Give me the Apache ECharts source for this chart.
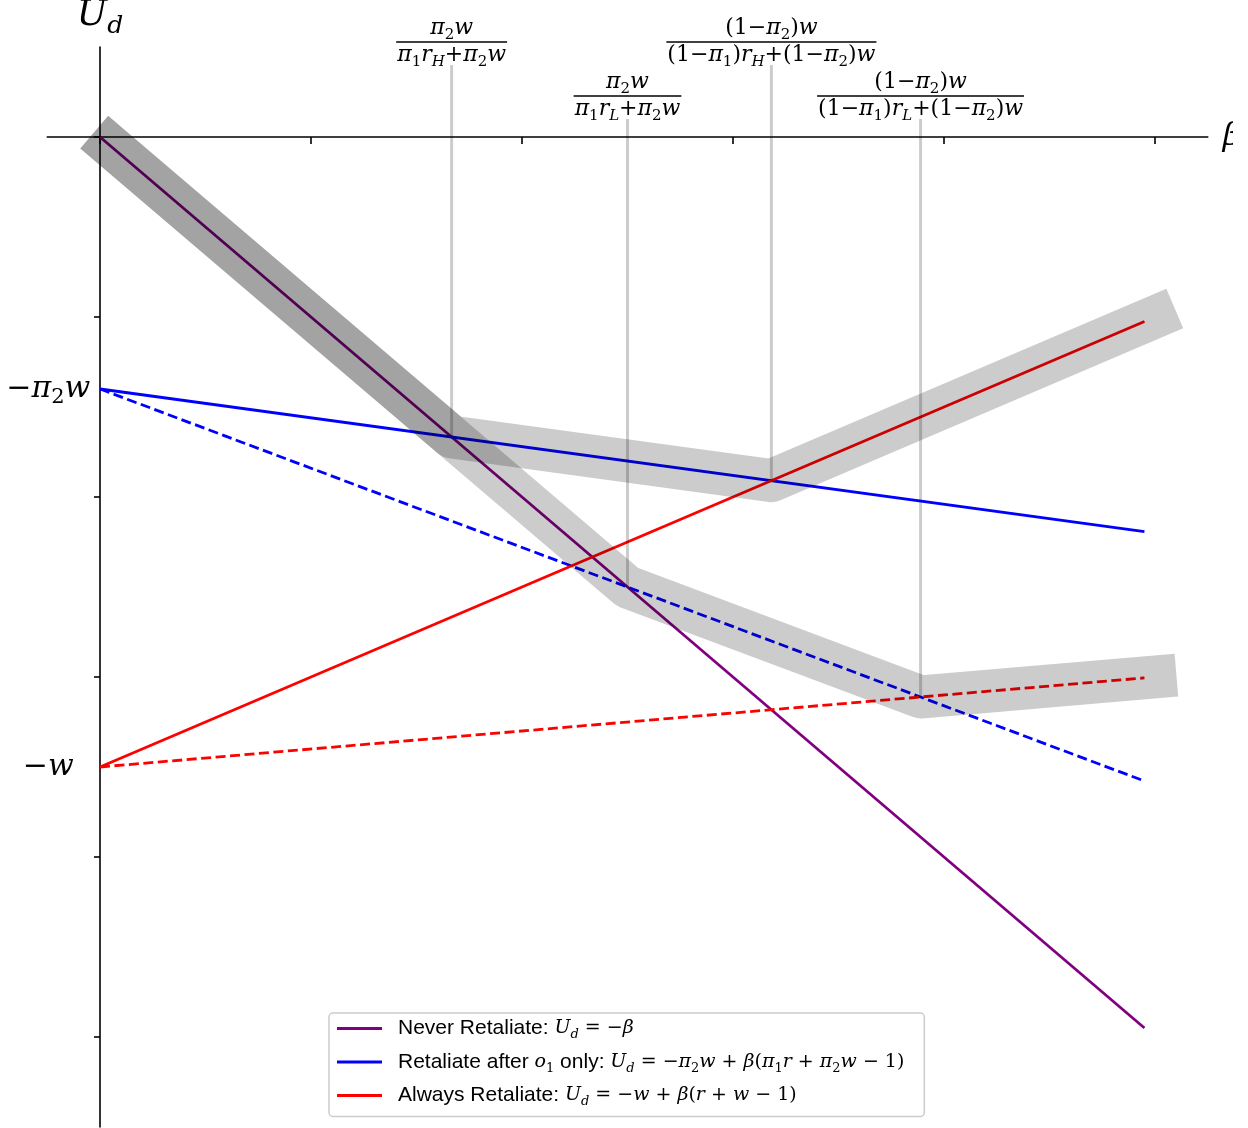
<!DOCTYPE html>
<html>
<head>
<meta charset="utf-8">
<script src="https://cdn.jsdelivr.net/npm/echarts@6/dist/echarts.min.js"></script>
<style>
  html, body { margin: 0; padding: 0; background: #fff; }
  #chart { width: 1248px; height: 1128px; }
</style>
</head>
<body>
<div id="chart"></div>
<script>
// ---- values ---------------------------------------------------------------
// Each strategy line is given by its value at beta = 0 and at the last beta.
const betaLine = [0, 0.99];
const neverRetaliate = [0, -0.99];
const retaliateO1High = [-0.28, -0.4384];   // r = r_H
const retaliateO1Low = [-0.28, -0.7156];    // r = r_L
const alwaysRetaliateHigh = [-0.7, -0.205]; // r = r_H
const alwaysRetaliateLow = [-0.7, -0.601];  // r = r_L

// Best-response envelopes (upper hull for r_H and for r_L)
const envelopeHighBeta = [0.01, 0.3333, 0.6364, 1.0];
const envelopeHighU = [-0.01, -0.3333, -0.3818, -0.2];
const envelopeLowBeta = [0.01, 0.5, 0.7778, 1.0];
const envelopeLowU = [-0.01, -0.5, -0.6222, -0.6];

// Switching points and their formula labels
const thresholdBeta = [0.3333, 0.5, 0.6364, 0.7778];
const thresholdU = [-0.3333, -0.5, -0.3818, -0.6222];
const thresholdLabelU = [0.08, 0.02, 0.08, 0.02];
const thresholdNum = ['π_2w', 'π_2w', '(1−π_2)w', '(1−π_2)w'];
const thresholdDen = ['π_1r_H+π_2w', 'π_1r_L+π_2w', '(1−π_1)r_H+(1−π_2)w', '(1−π_1)r_L+(1−π_2)w'];

// Axes
const xMin = -0.05, xMax = 1.05, yMin = -1.1, yMax = 0.1;
const xTicks = [0, 0.2, 0.4, 0.6, 0.8, 1.0];
const yTicks = [-1.0, -0.8, -0.6, -0.4, -0.2, 0];
const yLabelValues = [-0.28, -0.7];
const yLabelTexts = ['−π_2w', '−w'];

// Legend
const seriesNames = ['Never Retaliate', 'Retaliate after o1 only', 'Always Retaliate'];
const legendLead = ['Never Retaliate: ', 'Retaliate after ', 'Always Retaliate: '];
const legendMid = ['', ' only: ', ''];
const legendMathA = ['', 'o_1', ''];
const legendMathB = ['U_d = −β', 'U_d = −π_2w + β(π_1r + π_2w − 1)', 'U_d = −w + β(r + w − 1)'];

// ---- math text helpers ----------------------------------------------------
const MATH_FONT = 'DejaVu Serif';
const TEXT_FONT = 'Liberation Sans';

// Split a small math string into italic letters, upright symbols and subscripts
function parseMath(src) {
  const out = [];
  for (let k = 0; k < src.length; k++) {
    let ch = src[k], cls;
    if (ch === '_') { ch = src[++k]; cls = /[0-9]/.test(ch) ? 'sn' : 'si'; }
    else cls = /[A-Za-zα-ω]/.test(ch) ? 'mi' : 'mn';
    if (out.length && out[out.length - 1][0] === cls) out[out.length - 1][1] += ch;
    else out.push([cls, ch]);
  }
  return out;
}
function mathRich(src, prefix) {
  return parseMath(src).map(([c, t]) => '{' + prefix + c + '|' + t + '}').join('');
}
function mathStyles(prefix, size) {
  const L = Math.round(size * 1.3), sub = Math.round(size * 0.7);
  const base = { fontFamily: MATH_FONT, color: '#000', fill: '#000' };
  return {
    [prefix + 'mi']: Object.assign({}, base, { fontStyle: 'italic', fontSize: size, lineHeight: L }),
    [prefix + 'mn']: Object.assign({}, base, { fontStyle: 'normal', fontSize: size, lineHeight: L }),
    [prefix + 'si']: Object.assign({}, base, { fontStyle: 'italic', fontSize: sub, lineHeight: sub, verticalAlign: 'bottom' }),
    [prefix + 'sn']: Object.assign({}, base, { fontStyle: 'normal', fontSize: sub, lineHeight: sub, verticalAlign: 'bottom' })
  };
}

const fracRich = mathStyles('f', 22);
const tickRich = mathStyles('t', 30);
const nameRich = mathStyles('a', 36);
const legendRich = Object.assign(mathStyles('l', 19), {
  txt: { fontFamily: TEXT_FONT, fontSize: 21, lineHeight: 26, color: '#000' }
});

function textWidth(text, rich) {
  const t = new echarts.graphic.Text({ style: { text: text, rich: rich } });
  return t.getBoundingRect().width;
}

function legendLabel(name) {
  const i = seriesNames.indexOf(name);
  let s = '{txt|' + legendLead[i] + '}';
  if (legendMathA[i]) s += mathRich(legendMathA[i], 'l');
  if (legendMid[i]) s += '{txt|' + legendMid[i] + '}';
  return s + mathRich(legendMathB[i], 'l');
}

function segment(b, u) { return [[b[0], u[0]], [b[1], u[1]]]; }
function polyline(bs, us) { return bs.map((b, i) => [b, us[i]]); }

// ---- chart ----------------------------------------------------------------
const chart = echarts.init(document.getElementById('chart'), null, { renderer: 'canvas' });

function lineSeries(name, data, color, dashed) {
  return {
    name: name, type: 'line', data: data, z: 2,
    showSymbol: false, symbol: 'none', silent: true, animation: false,
    color: color, itemStyle: { color: color },
    lineStyle: { color: color, width: 2.8, type: dashed ? [10, 4.5] : 'solid', cap: 'butt' }
  };
}
function bandSeries(name, data) {
  return {
    name: name, type: 'line', data: data, z: 3,
    showSymbol: false, symbol: 'none', silent: true, animation: false,
    lineStyle: { color: 'rgba(0,0,0,0.2)', width: 43, cap: 'square', join: 'round' }
  };
}

const option = {
  animation: false,
  backgroundColor: '#fff',
  grid: { left: 47.25, right: 40.25, top: 47, bottom: 1, containLabel: false, outerBoundsMode: 'none' },
  xAxis: {
    type: 'value', min: xMin, max: xMax,
    axisLine: { onZero: true, lineStyle: { color: '#000', width: 1.6 } },
    axisTick: { show: true, customValues: xTicks, length: 7, lineStyle: { color: '#000', width: 1.6 } },
    axisLabel: { show: false },
    splitLine: { show: false },
    name: 'β', nameLocation: 'end', nameGap: 15,
    nameTextStyle: { fontFamily: MATH_FONT, fontStyle: 'italic', fontSize: 32, color: '#000' }
  },
  yAxis: {
    type: 'value', min: yMin, max: yMax,
    axisLine: { onZero: true, lineStyle: { color: '#000', width: 1.6 } },
    axisTick: { show: true, customValues: yTicks, length: 6, lineStyle: { color: '#000', width: 1.6 } },
    axisLabel: { show: false },
    splitLine: { show: false },
    name: mathRich('U_d', 'a'), nameLocation: 'end', nameGap: 8,
    nameTextStyle: { rich: nameRich }
  },
  legend: {
    data: seriesNames,
    orient: 'vertical', left: 329, top: 1013,
    icon: 'rect', itemWidth: 45, itemHeight: 3, itemGap: 10,
    padding: [5, 20, 8, 8],
    borderColor: '#cccccc', borderWidth: 1.5, borderRadius: 4,
    backgroundColor: 'rgba(255,255,255,0.8)',
    selectedMode: false,
    formatter: legendLabel,
    textStyle: { rich: legendRich, padding: [0, 0, 0, 11] }
  },
  graphic: [
    // the figure is trimmed just past the start of the beta axis name
    { type: 'rect', right: 0, top: 0, shape: { width: 15, height: 1128 }, style: { fill: '#fff' }, z: 100, silent: true }
  ],
  series: [
    lineSeries(seriesNames[0], segment(betaLine, neverRetaliate), '#800080'),
    lineSeries(seriesNames[1], segment(betaLine, retaliateO1High), '#0000ff'),
    lineSeries('Retaliate after o1 only (r_L)', segment(betaLine, retaliateO1Low), '#0000ff', true),
    lineSeries(seriesNames[2], segment(betaLine, alwaysRetaliateHigh), '#ff0000'),
    lineSeries('Always Retaliate (r_L)', segment(betaLine, alwaysRetaliateLow), '#ff0000', true),
    bandSeries('best response r_H', polyline(envelopeHighBeta, envelopeHighU)),
    bandSeries('best response r_L', polyline(envelopeLowBeta, envelopeLowU)),
    {
      // vertical guides at the switching points with their fraction labels
      name: 'switch points', type: 'custom', coordinateSystem: 'cartesian2d',
      z: 5, silent: true, clip: false, animation: false,
      data: thresholdBeta.map((b, i) => [b, thresholdU[i], thresholdLabelU[i], i]),
      renderItem: function (params, api) {
        const i = api.value(3);
        const b = api.value(0);
        const pLow = api.coord([b, api.value(1)]);
        const pTop = api.coord([b, api.value(2)]);
        const num = mathRich(thresholdNum[i], 'f');
        const den = mathRich(thresholdDen[i], 'f');
        const w = Math.max(textWidth(num, fracRich), textWidth(den, fracRich)) + 2;
        const barY = pTop[1] - 23;
        return {
          type: 'group',
          children: [
            { type: 'line', shape: { x1: pLow[0], y1: pLow[1], x2: pTop[0], y2: pTop[1] },
              style: { stroke: 'rgba(0,0,0,0.2)', lineWidth: 3 } },
            { type: 'line', shape: { x1: pTop[0] - w / 2, y1: barY, x2: pTop[0] + w / 2, y2: barY },
              style: { stroke: '#000', lineWidth: 1.5 } },
            { type: 'text', x: pTop[0], y: barY + 1,
              style: { text: num, rich: fracRich, fill: '#000', align: 'center', verticalAlign: 'bottom' } },
            { type: 'text', x: pTop[0], y: barY - 1.5,
              style: { text: den, rich: fracRich, fill: '#000', align: 'center', verticalAlign: 'top' } }
          ]
        };
      }
    },
    {
      // labels for the two intercepts on the U_d axis
      name: 'intercept labels', type: 'custom', coordinateSystem: 'cartesian2d',
      z: 5, silent: true, clip: false, animation: false,
      data: yLabelValues.map((v, i) => [xMin, v, i]),
      renderItem: function (params, api) {
        const p = api.coord([api.value(0), api.value(1)]);
        return {
          type: 'text', x: p[0] + 1, y: p[1],
          style: { text: mathRich(yLabelTexts[api.value(2)], 't'), rich: tickRich, fill: '#000', align: 'center', verticalAlign: 'middle' }
        };
      }
    }
  ]
};

chart.setOption(option);
</script>
</body>
</html>
